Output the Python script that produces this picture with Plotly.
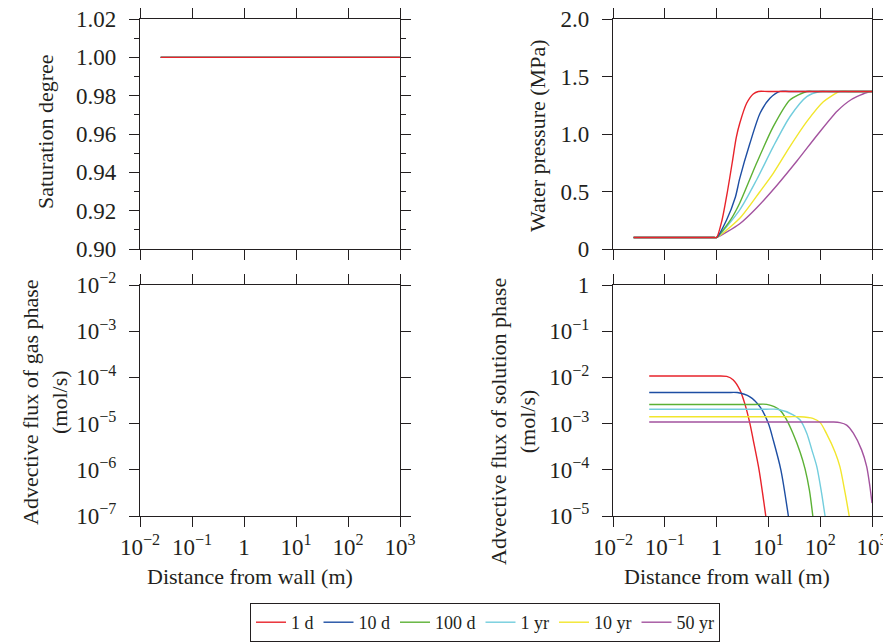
import plotly.graph_objects as go

# ---------------- data ----------------
series_names = ["1 d", "10 d", "100 d", "1 yr", "10 yr", "50 yr"]
series_colors = ["#e8232b", "#1d4ea3", "#5cb135", "#72cddd", "#f2e62c", "#a3539f"]

# Saturation degree (all series coincide)
sat_x = [0.025, 1000]
sat_y = [1.0, 1.0]

# Water pressure (MPa)
wp_x = {
    "1 d":   [0.025, 0.9, 1.0, 1.27, 1.62, 2.0, 2.4, 2.8, 3.8, 5.1, 6.4, 10, 1000],
    "10 d":  [0.025, 0.9, 1.0, 1.55, 2.3, 2.8, 4.4, 6.9, 10.7, 16.7, 25, 1000],
    "100 d": [0.025, 0.9, 1.0, 1.9, 2.8, 5.9, 12.4, 26, 55, 80, 1000],
    "1 yr":  [0.025, 0.9, 1.0, 2.8, 5.9, 12.4, 26, 55, 99, 150, 1000],
    "10 yr": [0.025, 0.9, 1.0, 2.8, 6.9, 12.4, 26, 55, 115, 240, 350, 1000],
    "50 yr": [0.025, 0.9, 1.0, 2.8, 5.9, 14.8, 35.5, 91, 214, 400, 850, 1000],
}
wp_y = {
    "1 d":   [0.1, 0.1, 0.1, 0.25, 0.5, 0.75, 0.97, 1.093, 1.267, 1.348, 1.37, 1.37, 1.37],
    "10 d":  [0.1, 0.1, 0.1, 0.25, 0.45, 0.614, 0.919, 1.18, 1.31, 1.37, 1.37, 1.37],
    "100 d": [0.1, 0.1, 0.1, 0.26, 0.4, 0.745, 1.064, 1.296, 1.37, 1.37, 1.37],
    "1 yr":  [0.1, 0.1, 0.1, 0.34, 0.6, 0.89, 1.15, 1.325, 1.37, 1.37, 1.37],
    "10 yr": [0.1, 0.1, 0.1, 0.267, 0.5, 0.658, 0.89, 1.107, 1.28, 1.37, 1.37, 1.37],
    "50 yr": [0.1, 0.1, 0.1, 0.22, 0.357, 0.557, 0.765, 1.0, 1.2, 1.3, 1.365, 1.37],
}

# Advective flux of solution phase (mol/s)
fl_x = {
    "1 d":   [0.05, 0.3, 0.65, 1.0, 1.57, 2.1, 2.83, 3.5, 4.4, 5.1, 6.6, 8.9],
    "10 d":  [0.05, 0.5, 1.6, 2.5, 4.4, 6.9, 10.0, 12.4, 17.4, 24.3],
    "100 d": [0.05, 1.0, 5.5, 9.3, 16.7, 22.5, 30, 41, 51, 62, 72],
    "1 yr":  [0.05, 1.5, 9.0, 15, 30, 41, 55, 69, 86, 106, 124],
    "10 yr": [0.05, 3.0, 25, 40, 72, 100, 131, 194, 240, 302, 363],
    "50 yr": [0.05, 8.0, 110, 180, 240, 324, 436, 630, 790, 912, 1000],
}
fl_y = {
    "1 d":   [1.07e-2, 1.07e-2, 1.07e-2, 1.07e-2, 1.05e-2, 8.8e-3, 5.3e-3, 2.7e-3, 1.0e-3, 4.4e-4, 1e-4, 1e-5],
    "10 d":  [4.7e-3, 4.7e-3, 4.7e-3, 4.7e-3, 3.8e-3, 2.3e-3, 1.0e-3, 4.4e-4, 1e-4, 1e-5],
    "100 d": [2.6e-3, 2.6e-3, 2.6e-3, 2.6e-3, 1.96e-3, 1.2e-3, 6.0e-4, 2.4e-4, 1.05e-4, 3.6e-5, 1e-5],
    "1 yr":  [2.04e-3, 2.04e-3, 2.04e-3, 2.04e-3, 1.55e-3, 1.2e-3, 6.2e-4, 2.7e-4, 1.17e-4, 3.2e-5, 1e-5],
    "10 yr": [1.41e-3, 1.41e-3, 1.41e-3, 1.41e-3, 1.3e-3, 1.05e-3, 6.2e-4, 2.4e-4, 1.17e-4, 3.2e-5, 1e-5],
    "50 yr": [1.08e-3, 1.08e-3, 1.08e-3, 1.08e-3, 1.05e-3, 9.3e-4, 6.2e-4, 2.7e-4, 1.17e-4, 4.3e-5, 1.9e-5],
}

x_tickvals = [0.01, 0.1, 1, 10, 100, 1000]
x_ticktext = ["10<sup>\u22122</sup>", "10<sup>\u22121</sup>", "1",
              "10<sup>1</sup>", "10<sup>2</sup>", "10<sup>3</sup>"]
sat_ticks = [0.90, 0.92, 0.94, 0.96, 0.98, 1.00, 1.02]
wp_tickvals = [0, 0.5, 1.0, 1.5, 2.0]
wp_ticktext = ["0", "0.5", "1.0", "1.5", "2.0"]
gas_tickvals = [1e-7, 1e-6, 1e-5, 1e-4, 1e-3, 1e-2]
gas_ticktext = ["10<sup>\u22127</sup>", "10<sup>\u22126</sup>", "10<sup>\u22125</sup>",
                "10<sup>\u22124</sup>", "10<sup>\u22123</sup>", "10<sup>\u22122</sup>"]
sol_tickvals = [1e-5, 1e-4, 1e-3, 1e-2, 1e-1, 1]
sol_ticktext = ["10<sup>\u22125</sup>", "10<sup>\u22124</sup>", "10<sup>\u22123</sup>",
                "10<sup>\u22122</sup>", "10<sup>\u22121</sup>", "1"]

# ---------------- figure ----------------
W, H = 883, 643
FONT = "Liberation Serif"
AX = "#231f20"

fig = go.Figure()

order = list(range(len(series_names)))[::-1]  # draw 50 yr first so 1 d is on top
for i in order:
    n, c = series_names[i], series_colors[i]
    fig.add_trace(go.Scatter(x=sat_x, y=sat_y, mode="lines", xaxis="x", yaxis="y",
                             line=dict(color=c, width=1.4), showlegend=False))
for i in order:
    n, c = series_names[i], series_colors[i]
    fig.add_trace(go.Scatter(x=wp_x[n], y=wp_y[n], mode="lines", xaxis="x2", yaxis="y2",
                             line=dict(color=c, width=1.4, shape="spline", smoothing=0.7),
                             showlegend=False))
for i in range(len(series_names)):
    n, c = series_names[i], series_colors[i]
    fig.add_trace(go.Scatter(x=fl_x[n], y=fl_y[n], mode="lines", xaxis="x4", yaxis="y4",
                             line=dict(color=c, width=1.4, shape="spline", smoothing=0.8),
                             name=n, showlegend=True))
# empty gas-phase panel
fig.add_trace(go.Scatter(x=[None], y=[None], mode="lines", xaxis="x3", yaxis="y3",
                         showlegend=False))


def px_x(a, b):
    return [a / W, b / W]


def px_y(top, bottom):
    return [(H - bottom) / H, (H - top) / H]


common = dict(showline=True, linecolor=AX, linewidth=1.2, mirror="ticks",
              ticks="outside", ticklen=10, tickwidth=1.2, tickcolor=AX,
              showgrid=False, zeroline=False, automargin=False,
              ticklabeloverflow="allow",
              tickfont=dict(family=FONT, size=23, color=AX))

xcommon = dict(common, type="log", range=[-2, 3], tickvals=x_tickvals, ticktext=x_ticktext)

L_dom = px_x(140, 400)
R_dom = px_x(613, 872)
T_dom = px_y(19, 249)
B_dom = px_y(285, 516)

fig.update_layout(
    width=W, height=H,
    margin=dict(l=0, r=0, t=0, b=0),
    paper_bgcolor="white", plot_bgcolor="white",
    font=dict(family=FONT, color=AX),
    xaxis=dict(xcommon, domain=L_dom, anchor="y", showticklabels=False),
    yaxis=dict(common, domain=T_dom, anchor="x", range=[0.90, 1.02],
               tickvals=sat_ticks, tickformat=".2f", ticklabelstandoff=8,
               minor=dict(dtick=0.01, ticks="outside", ticklen=5, tickcolor=AX, tickwidth=1.2)),
    xaxis2=dict(xcommon, domain=R_dom, anchor="y2", showticklabels=False),
    yaxis2=dict(common, domain=T_dom, anchor="x2", range=[0, 2.0],
                tickvals=wp_tickvals, ticktext=wp_ticktext, ticklabelstandoff=8),
    xaxis3=dict(xcommon, domain=L_dom, anchor="y3"),
    yaxis3=dict(common, domain=B_dom, anchor="x3", type="log", range=[-7, -2],
                tickvals=gas_tickvals, ticktext=gas_ticktext, ticklabelstandoff=8),
    xaxis4=dict(xcommon, domain=R_dom, anchor="y4"),
    yaxis4=dict(common, domain=B_dom, anchor="x4", type="log", range=[-5, 0],
                tickvals=sol_tickvals, ticktext=sol_ticktext, ticklabelstandoff=8),
    legend=dict(orientation="h", x=485 / W, xanchor="center", y=(H - 603) / H, yanchor="top",
                bordercolor=AX, borderwidth=1, bgcolor="white",
                font=dict(family=FONT, size=18, color=AX),
                itemwidth=30, tracegroupgap=0),
)

TF = dict(family=FONT, size=22, color=AX)
ann = [
    dict(text="Saturation degree", x=45 / W, y=(H - 132) / H, textangle=-90),
    dict(text="Water pressure (MPa)", x=537 / W, y=(H - 136) / H, textangle=-90),
    dict(text="Advective flux of gas phase<br>(mol/s)", x=45 / W, y=(H - 402) / H, textangle=-90),
    dict(text="Advective flux of solution phase<br>(mol/s)", x=513 / W, y=(H - 422) / H, textangle=-90),
    dict(text="Distance from wall (m)", x=250 / W, y=(H - 576) / H),
    dict(text="Distance from wall (m)", x=727 / W, y=(H - 576) / H),
]
for a in ann:
    fig.add_annotation(xref="paper", yref="paper", showarrow=False, font=TF,
                       xanchor="center", yanchor="middle", **a)

fig.write_html("out.html")
